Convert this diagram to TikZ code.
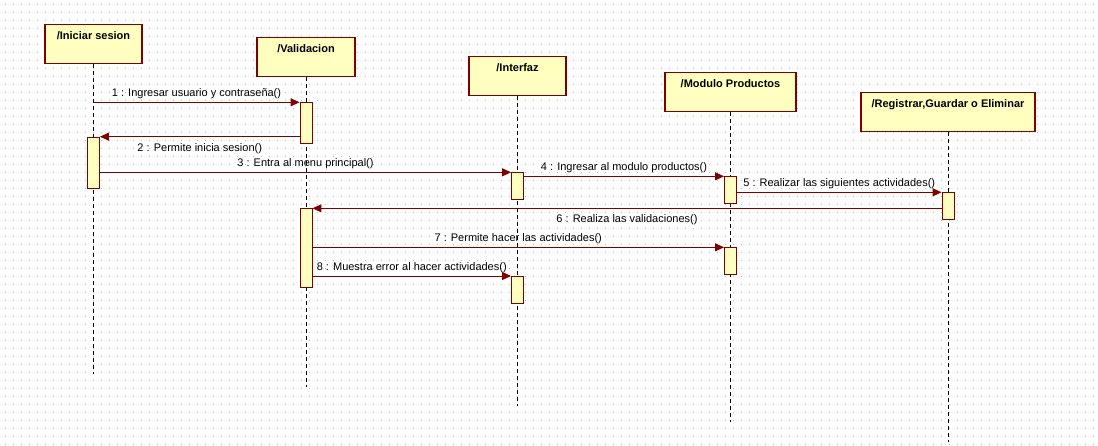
\documentclass[tikz,border=0pt]{standalone}
\usepackage{fontspec}
\setmainfont{Liberation Sans}
\usetikzlibrary{arrows.meta}
\definecolor{umlred}{RGB}{128,0,0}
\definecolor{umlfill}{RGB}{255,255,192}
\definecolor{dotgray}{RGB}{185,185,185}

\begin{document}
\begin{tikzpicture}[x=1pt, y=-1pt, font=\fontsize{11}{13}\selectfont,
  obj/.style={draw=umlred, line width=1.1pt, fill=umlfill, anchor=north, font=\fontsize{11}{13}\selectfont\bfseries, minimum height=39pt, text height=9pt, text depth=18pt, inner ysep=6pt, inner xsep=0pt},
  act/.style={draw=umlred, line width=0.9pt, fill=umlfill, anchor=north, minimum width=12pt, inner sep=0pt},
  life/.style={black, line width=0.8pt, dash pattern=on 4pt off 3pt},
  msg/.style={umlred, line width=1pt, -{Triangle[length=9pt,width=8pt]}},
  lbl/.style={inner sep=1pt, text=black},
  griddot/.style={dotgray, line width=1pt, dash pattern=on 1pt off 7pt}]
\useasboundingbox (0,0) rectangle (1098,445);
% dotted grid
\foreach \k in {0,...,55}
  \draw[griddot] (5,4.5+8*\k) -- (1098,4.5+8*\k);
% objects
\node[obj, minimum width=97pt] (ini) at (93.5,24.3) {/Iniciar sesion};
\node[obj, minimum width=98pt] (val) at (306,36.7) {/Validacion};
\node[obj, minimum width=97pt] (int) at (517.5,56) {/Interfaz};
\node[obj, minimum width=131pt] (mod) at (730.5,72.3) {/Modulo Productos};
\node[obj, minimum width=174pt] (reg) at (948,92.3) {/Registrar,Guardar o Eliminar};
% lifelines
\foreach \o in {ini,val,int,mod,reg}
  \draw[life] (\o.south) -- ++(0,310);
% activations
\node[act, minimum height=41pt] (va1) at (306,102.3) {};
\node[act, minimum height=51pt] (ia) at (93.5,136.7) {};
\node[act, minimum height=27pt] (int1) at (517.5,172.3) {};
\node[act, minimum height=27pt] (mod1) at (730.5,176.3) {};
\node[act, minimum height=27pt] (reg1) at (948,192.3) {};
\node[act, minimum height=79pt] (va2) at (306,208.3) {};
\node[act, minimum height=27pt] (mod2) at (730.5,247.3) {};
\node[act, minimum height=27pt] (int2) at (517.5,276) {};
% messages
\draw[msg] (ini.south |- va1.north west) -- node[lbl, above=2pt] (l1) {1 : Ingresar usuario y contraseña()} (va1.north west);
\draw[msg] (va1.west |- ia.north east) -- node[lbl, below=5pt] (l2) {2 : Permite inicia sesion()} (ia.north east);
\draw[msg] (ia.east |- int1.north west) -- node[lbl, above=2pt] (l3) {3 : Entra al menu principal()} (int1.north west);
\draw[msg] (int1.east |- mod1.north west) -- node[lbl, above=2pt] (l4) {4 : Ingresar al modulo productos()} (mod1.north west);
\draw[msg] (mod1.east |- reg1.north west) -- node[lbl, above=2pt] (l5) {5 : Realizar las siguientes actividades()} (reg1.north west);
\draw[msg] (reg1.west |- va2.north east) -- node[lbl, below=5pt] (l6) {6 : Realiza las validaciones()} (va2.north east);
\draw[msg] (va2.east |- mod2.north west) -- node[lbl, above=2pt] (l7) {7 : Permite hacer las actividades()} (mod2.north west);
\draw[msg] (va2.east |- int2.north west) -- node[lbl, above=2pt] (l8) {8 : Muestra error al hacer actividades()} (int2.north west);
\end{tikzpicture}
\end{document}
